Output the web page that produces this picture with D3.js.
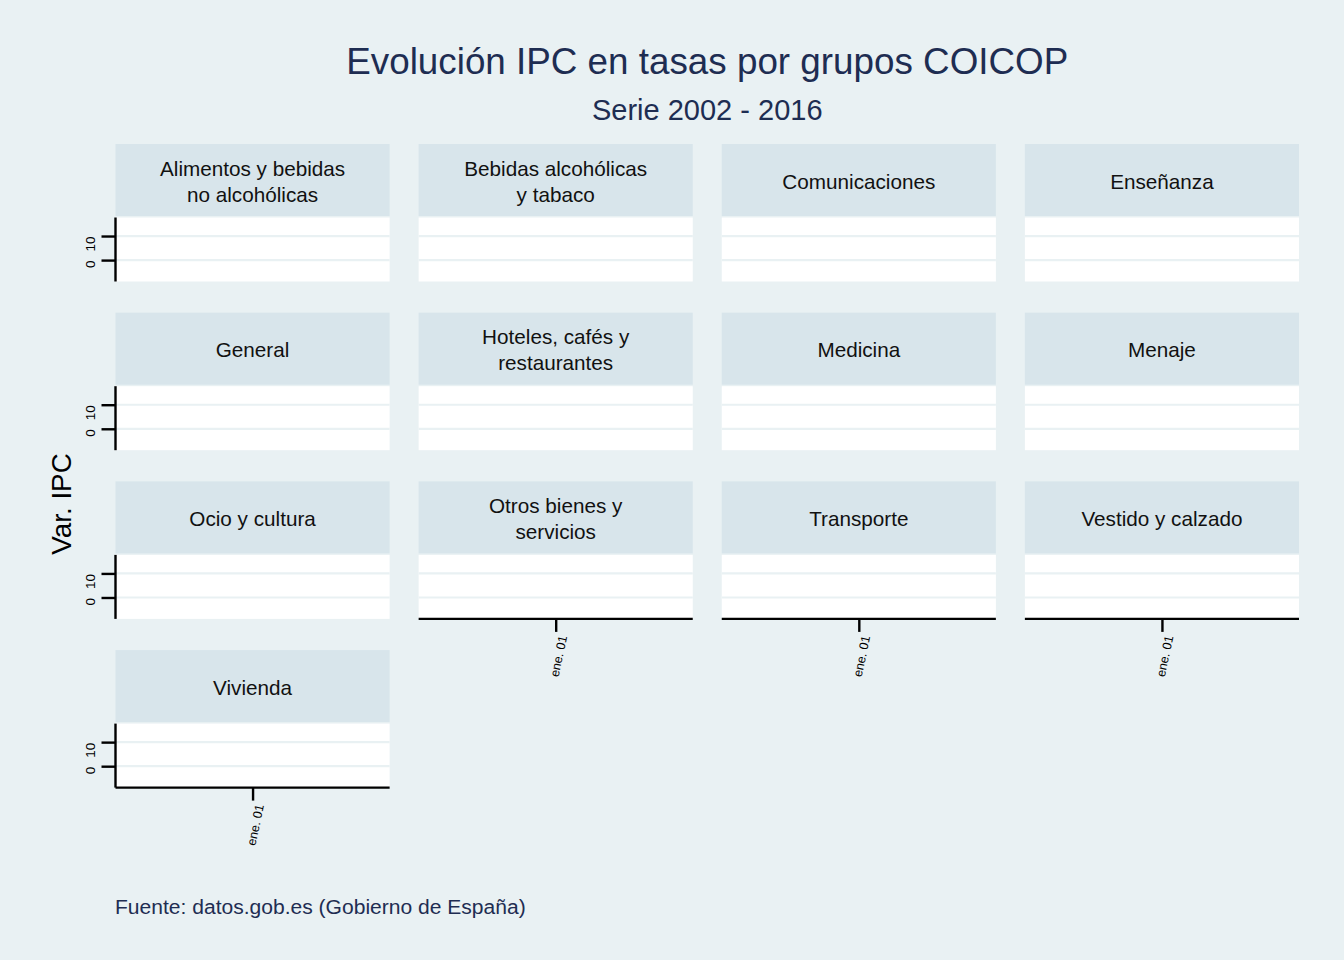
<!DOCTYPE html>
<html>
<head>
<meta charset="utf-8">
<script src="https://cdn.jsdelivr.net/npm/d3@7"></script>
<style>
  html, body { margin: 0; padding: 0; background: #e9f1f3; }
  svg { display: block; font-family: "Liberation Sans", Arial, sans-serif; }
</style>
</head>
<body>
<script>
// ---- Data ----
const titleText = "Evolución IPC en tasas por grupos COICOP";
const subtitleText = "Serie 2002 - 2016";
const captionText = "Fuente: datos.gob.es (Gobierno de España)";
const yLabelText = "Var. IPC";

// Facet categories (strip labels, wrapped as in the picture)
const categories = [
  "Alimentos y bebidas\nno alcohólicas",
  "Bebidas alcohólicas\ny tabaco",
  "Comunicaciones",
  "Enseñanza",
  "General",
  "Hoteles, cafés y\nrestaurantes",
  "Medicina",
  "Menaje",
  "Ocio y cultura",
  "Otros bienes y\nservicios",
  "Transporte",
  "Vestido y calzado",
  "Vivienda"
];

// x categories (only one period is present in the picture)
const periods = ["ene. 01"];
// one value per facet at that single period; no line is drawn (single point), values unreadable
const seriesValues = [null, null, null, null, null, null, null, null, null, null, null, null, null];
// y range visible in panels (shared scale)
const yDomain = [-8.9, 17.7];
const yTicks = [0, 10];

// ---- Layout ----
const W = 1344, H = 960;
const bg = "#e9f1f3", stripFill = "#d8e5eb", gridCol = "#e9f1f3", navy = "#1e2d52";
const ncol = 4;
const left = 115.5, right = 1299;
const colGap = 29;
const panelW = (right - left - colGap * (ncol - 1)) / ncol;
const top0 = 144, rowPitch = 168.7, stripH = 72, stripGap = 1.5, panelH = 64;

const svg = d3.select("body").append("svg").attr("width", W).attr("height", H);
svg.append("rect").attr("width", W).attr("height", H).attr("fill", bg);

// Titles
svg.append("text").attr("x", (left + right) / 2).attr("y", 74)
  .attr("text-anchor", "middle").attr("font-size", 36.8).attr("fill", navy).text(titleText);
svg.append("text").attr("x", (left + right) / 2).attr("y", 120)
  .attr("text-anchor", "middle").attr("font-size", 29).attr("fill", navy).text(subtitleText);
svg.append("text").attr("x", left - 0.5).attr("y", 914)
  .attr("font-size", 21.05).attr("fill", navy).text(captionText);
svg.append("text").attr("transform", `translate(71,504) rotate(-90)`)
  .attr("text-anchor", "middle").attr("font-size", 27.8).attr("fill", "#000").text(yLabelText);

const x = d3.scalePoint().domain(periods).range([0, panelW]).padding(0.5);
const y = d3.scaleLinear().domain(yDomain).range([panelH, 0]);
const line = d3.line().defined(d => d.v != null).x(d => x(d.p)).y(d => y(d.v));

categories.forEach((cat, i) => {
  const r = Math.floor(i / ncol), c = i % ncol;
  const gx = left + c * (panelW + colGap);
  const gy = top0 + r * rowPitch;
  const g = svg.append("g").attr("transform", `translate(${gx},${gy})`);

  // strip
  g.append("rect").attr("width", panelW).attr("height", stripH).attr("fill", stripFill);
  const lines = cat.split("\n");
  lines.forEach((t, k) => {
    g.append("text").attr("x", panelW / 2)
      .attr("y", 36 + (k - (lines.length - 1) / 2) * 26 + 8.5)
      .attr("text-anchor", "middle").attr("font-size", 20.7).attr("fill", "#111").text(t);
  });

  // panel
  const p = g.append("g").attr("transform", `translate(0,${stripH + stripGap})`);
  p.append("rect").attr("width", panelW).attr("height", panelH).attr("fill", "#fff");
  p.selectAll("line.grid").data(yTicks).join("line").attr("class", "grid")
    .attr("x1", 0).attr("x2", panelW).attr("y1", d => y(d)).attr("y2", d => y(d))
    .attr("stroke", gridCol).attr("stroke-width", 2.2);

  // series (single point -> no visible line, as in the picture)
  p.append("path").datum(periods.map(pp => ({p: pp, v: seriesValues[i]})))
    .attr("d", line).attr("fill", "none").attr("stroke", "#01a2d9").attr("stroke-width", 2);

  // y axis on first column
  if (c === 0) {
    const ya = p.append("g").call(d3.axisLeft(y).tickValues(yTicks).tickSize(14).tickFormat(d3.format("d")));
    ya.select(".domain").attr("stroke", "#000").attr("stroke-width", 2.4).attr("d", `M0,0V${panelH}`);
    ya.selectAll(".tick line").attr("stroke", "#000").attr("stroke-width", 2.4);
    ya.selectAll(".tick text")
      .attr("x", null).attr("dy", null)
      .attr("transform", "translate(-20.5,0) rotate(-90)")
      .attr("text-anchor", "end").attr("font-size", 13.5).attr("fill", "#000")
      .attr("font-family", "Liberation Sans, Arial, sans-serif");
  }
  // x axis on bottom panel of each column
  const isBottom = (i + ncol >= categories.length);
  if (isBottom) {
    const xa = p.append("g").attr("transform", `translate(0,${panelH})`)
      .call(d3.axisBottom(x).tickSize(13));
    xa.select(".domain").attr("stroke", "#000").attr("stroke-width", 2.4).attr("d", `M0,0H${panelW}`);
    xa.selectAll(".tick line").attr("stroke", "#000").attr("stroke-width", 2.4);
    xa.selectAll(".tick text")
      .attr("y", null).attr("dy", null)
      .attr("transform", "translate(7,17) rotate(-78)")
      .attr("text-anchor", "end").attr("dominant-baseline", "central")
      .attr("font-size", 12.5).attr("fill", "#000")
      .attr("font-family", "Liberation Sans, Arial, sans-serif");
  }
});
</script>
</body>
</html>
